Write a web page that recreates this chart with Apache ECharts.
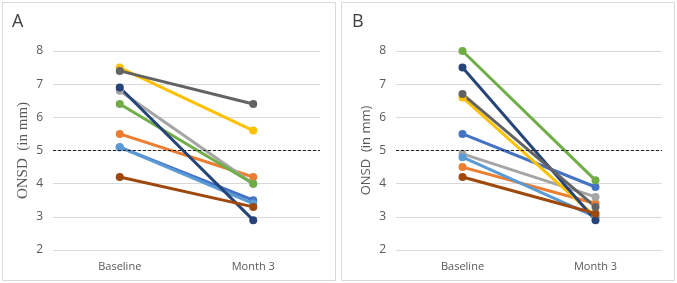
<!DOCTYPE html>
<html>
<head>
<meta charset="utf-8">
<script src="https://cdn.jsdelivr.net/npm/echarts@6/dist/echarts.min.js"></script>
<style>
  html, body { margin: 0; padding: 0; background: #fff; }
  #chart { width: 677px; height: 283px; }
</style>
</head>
<body>
<div id="chart"></div>
<script>
// categories and ticks
const categories = ['Baseline', 'Month 3']
const yTicks = [2, 3, 4, 5, 6, 7, 8]
const threshold = 5

// Office palette, one colour per patient line
const colors = ['#4472C4', '#ED7D31', '#A5A5A5', '#FFC000', '#5B9BD5', '#70AD47', '#264478', '#9E480E', '#636363']

// panel A: [baseline, month 3]
const blueA = [5.1, 3.5]
const orangeA = [5.5, 4.2]
const grayA = [6.8, 4.0]
const yellowA = [7.5, 5.6]
const lightBlueA = [5.1, 3.4]
const greenA = [6.4, 4.0]
const darkBlueA = [6.9, 2.9]
const brownA = [4.2, 3.3]
const darkGrayA = [7.4, 6.4]

// panel B
const blueB = [5.5, 3.9]
const orangeB = [4.5, 3.4]
const grayB = [4.9, 3.6]
const yellowB = [6.6, 3.0]
const lightBlueB = [4.8, 3.0]
const greenB = [8.0, 4.1]
const darkBlueB = [7.5, 2.9]
const brownB = [4.2, 3.1]
const darkGrayB = [6.7, 3.3]

const panelA = [blueA, orangeA, grayA, yellowA, lightBlueA, greenA, darkBlueA, brownA, darkGrayA]
const panelB = [blueB, orangeB, grayB, yellowB, lightBlueB, greenB, darkBlueB, brownB, darkGrayB]

const labelColor = '#595959'

function yAxisFor(gridIndex, nameFont, nameSize, nameGap) {
  return {
    gridIndex: gridIndex,
    type: 'value',
    min: yTicks[0],
    max: yTicks[yTicks.length - 1],
    interval: 1,
    name: 'ONSD  (in mm)',
    nameLocation: 'middle',
    nameGap: nameGap,
    nameTextStyle: { color: labelColor, fontSize: nameSize, fontFamily: nameFont },
    axisLine: { show: false },
    axisTick: { show: false },
    axisLabel: { color: labelColor, fontSize: 12, margin: 10, fontFamily: 'Open Sans' },
    splitLine: { lineStyle: { color: '#d9d9d9', width: 1 } }
  }
}

function xAxisFor(gridIndex) {
  return {
    gridIndex: gridIndex,
    type: 'category',
    data: categories,
    boundaryGap: true,
    axisLine: { show: false },
    axisTick: { show: false },
    axisLabel: { color: labelColor, fontSize: 11, margin: 11, fontFamily: 'Open Sans' }
  }
}

function seriesFor(panel, idx) {
  return panel.map((vals, i) => {
    const s = {
      type: 'line',
      xAxisIndex: idx,
      yAxisIndex: idx,
      data: vals,
      symbol: 'circle',
      symbolSize: 8,
      lineStyle: { width: 3, color: colors[i] },
      itemStyle: { color: colors[i] },
      silent: true,
      animation: false
    }
    if (i === 0) {
      s.markLine = {
        silent: true,
        symbol: 'none',
        label: { show: false },
        lineStyle: { type: [3, 2], color: '#222', width: 1 },
        data: [{ yAxis: threshold }]
      }
    }
    return s
  })
}

const chart = echarts.init(document.getElementById('chart'))
chart.setOption({
  animation: false,
  grid: [
    { left: 53, top: 51, width: 267, height: 199 },
    { left: 396, top: 51, width: 266, height: 199 }
  ],
  xAxis: [xAxisFor(0), xAxisFor(1)],
  yAxis: [yAxisFor(0, 'Liberation Serif', 15, 22), yAxisFor(1, 'Open Sans', 13, 23)],
  graphic: [
    { type: 'rect', shape: { x: 2.5, y: 2.5, width: 333, height: 278 }, style: { fill: 'none', stroke: '#d9d9d9', lineWidth: 1 } },
    { type: 'rect', shape: { x: 341.5, y: 2.5, width: 333, height: 278 }, style: { fill: 'none', stroke: '#d9d9d9', lineWidth: 1 } },
    { type: 'text', left: 12, top: 13, style: { text: 'A', fontSize: 18, fill: '#404040', fontFamily: 'Open Sans' } },
    { type: 'text', left: 352, top: 13, style: { text: 'B', fontSize: 18, fill: '#404040', fontFamily: 'Open Sans' } }
  ],
  series: seriesFor(panelA, 0).concat(seriesFor(panelB, 1))
})
</script>
</body>
</html>
